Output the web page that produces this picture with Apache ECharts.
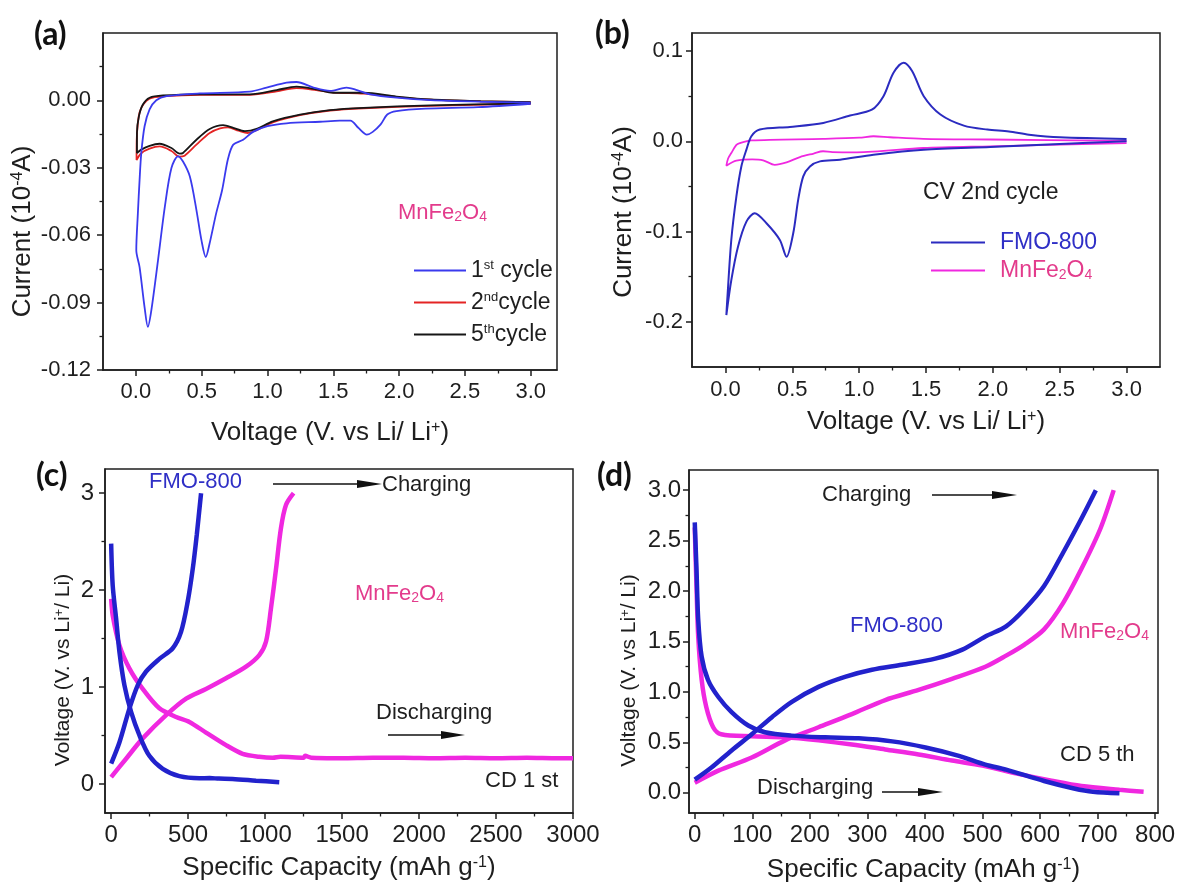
<!DOCTYPE html>
<html><head><meta charset="utf-8">
<script src="https://cdn.jsdelivr.net/npm/echarts@6.0.0/dist/echarts.min.js"></script>
<style>html,body{margin:0;padding:0;background:#fff}#c{width:1182px;height:888px}</style>
</head><body><div id="c"></div><script>
// ---------- DATA ----------
// (a) CV of MnFe2O4 : [voltage (V), current (1e-4 A)]
const cvA_1st = [[3.0,-0.0015],[2.6,-0.003],[2.2,-0.0037],[1.98,-0.0048],[1.91,-0.0063],[1.86,-0.0107],[1.80,-0.014],[1.755,-0.0152],[1.69,-0.0122],[1.63,-0.009],[1.55,-0.009],[1.40,-0.0095],[1.145,-0.0102],[1.0,-0.0115],[0.89,-0.014],[0.815,-0.0175],[0.74,-0.0197],[0.70,-0.026],[0.655,-0.040],[0.61,-0.0503],[0.56,-0.0637],[0.531,-0.0697],[0.498,-0.0622],[0.46,-0.0488],[0.41,-0.0339],[0.358,-0.0272],[0.32,-0.0249],[0.27,-0.0301],[0.22,-0.0473],[0.168,-0.0712],[0.117,-0.0936],[0.091,-0.1008],[0.066,-0.0921],[0.028,-0.0742],[0.003,-0.0667],[0.015,-0.0503],[0.028,-0.0354],[0.041,-0.0234],[0.066,-0.0115],[0.104,-0.004],[0.155,0.0001],[0.232,0.0019],[0.485,0.0031],[0.866,0.0039],[0.993,0.0057],[1.145,0.0079],[1.22,0.0082],[1.35,0.0057],[1.475,0.0042],[1.6,0.0057],[1.68,0.0046],[1.78,0.0027],[1.98,0.0012],[2.24,0.0001],[2.62,-0.0006],[3.0,-0.001]];
const cvA_2nd = [[3.0,-0.0015],[2.24,-0.0024],[1.73,-0.0035],[1.475,-0.0045],[1.247,-0.0066],[1.04,-0.0098],[0.917,-0.0133],[0.85,-0.0145],[0.78,-0.0135],[0.70,-0.012],[0.64,-0.0125],[0.561,-0.0145],[0.46,-0.0197],[0.37,-0.0246],[0.33,-0.025],[0.27,-0.0225],[0.18,-0.0205],[0.104,-0.0215],[0.041,-0.0235],[0.005,-0.0265],[0.006,-0.018],[0.015,-0.010],[0.03,-0.005],[0.06,-0.0015],[0.104,0.0008],[0.2,0.0018],[0.485,0.0025],[0.866,0.0025],[1.07,0.004],[1.22,0.0055],[1.37,0.0046],[1.5,0.0035],[1.73,0.003],[1.98,0.0015],[2.24,0.0003],[2.62,-0.0004],[3.0,-0.0008]];
const cvA_5th = [[3.0,-0.0013],[2.24,-0.0022],[1.73,-0.0033],[1.475,-0.0043],[1.247,-0.0063],[1.04,-0.0093],[0.917,-0.0127],[0.828,-0.0137],[0.74,-0.0122],[0.663,-0.011],[0.561,-0.0127],[0.46,-0.0175],[0.358,-0.0234],[0.333,-0.0237],[0.27,-0.0212],[0.18,-0.0193],[0.104,-0.0202],[0.041,-0.0219],[0.008,-0.0234],[0.008,-0.0145],[0.023,-0.007],[0.053,-0.0018],[0.104,0.0012],[0.206,0.0022],[0.485,0.0027],[0.866,0.0027],[1.07,0.0046],[1.22,0.0061],[1.37,0.0049],[1.5,0.0034],[1.73,0.0034],[1.98,0.0017],[2.24,0.0004],[2.62,-0.0003],[3.0,-0.0008]];
// (b) CV 2nd cycle
const cvB_FMO = [[3.0,0.0],[2.5,-0.003],[1.98,-0.0062],[1.483,-0.0092],[1.107,-0.0148],[0.857,-0.0203],[0.707,-0.0222],[0.632,-0.0278],[0.582,-0.0389],[0.544,-0.0648],[0.507,-0.1018],[0.457,-0.1278],[0.407,-0.1092],[0.307,-0.0907],[0.219,-0.0796],[0.157,-0.0889],[0.094,-0.1167],[0.044,-0.1537],[0.007,-0.1925],[0.012,-0.1796],[0.044,-0.109],[0.082,-0.061],[0.119,-0.0278],[0.157,-0.0092],[0.194,0.0056],[0.257,0.013],[0.482,0.016],[0.732,0.0204],[0.932,0.0286],[1.095,0.035],[1.182,0.050],[1.257,0.076],[1.333,0.087],[1.396,0.0778],[1.483,0.050],[1.608,0.0297],[1.783,0.0174],[1.959,0.013],[2.12,0.011],[2.27,0.0074],[2.5,0.0044],[3.0,0.0027]];
const cvB_MFO = [[3.0,-0.002],[1.98,-0.0055],[1.48,-0.0074],[0.982,-0.0122],[0.80,-0.012],[0.73,-0.011],[0.66,-0.0135],[0.557,-0.0174],[0.457,-0.0233],[0.369,-0.026],[0.282,-0.021],[0.2,-0.020],[0.082,-0.0215],[0.007,-0.027],[0.02,-0.019],[0.044,-0.013],[0.082,-0.004],[0.107,-0.002],[0.194,0.001],[0.73,0.0027],[1.0,0.004],[1.107,0.0056],[1.23,0.0045],[1.48,0.0027],[1.98,0.002],[3.0,0.0005]];
// (c) CD 1st : [capacity (mAh/g), voltage (V)]
const cdC_FMO_dis = [[0,2.48],[10,2.05],[32,1.71],[54,1.36],[86,1.02],[130,0.74],[184,0.50],[248,0.29],[335,0.155],[443,0.08],[573,0.059],[640,0.06],[700,0.055],[789,0.052],[941,0.034],[1092,0.017]];
const cdC_FMO_chg = [[0,0.21],[54,0.43],[119,0.78],[173,1.02],[227,1.16],[313,1.29],[400,1.40],[454,1.57],[497,1.88],[530,2.22],[556,2.57],[584,3.0]];
const cdC_MFO_dis = [[0,1.91],[10,1.74],[54,1.43],[119,1.19],[205,0.98],[313,0.78],[422,0.69],[508,0.64],[616,0.53],[746,0.40],[854,0.31],[962,0.28],[1050,0.27],[1100,0.28],[1250,0.27],[1260,0.29],[1300,0.27],[1500,0.265],[1700,0.27],[1900,0.27],[2100,0.265],[2300,0.27],[2500,0.265],[2700,0.27],[2900,0.265],[3000,0.265]];
const cdC_MFO_chg = [[0,0.07],[97,0.26],[205,0.47],[357,0.71],[487,0.88],[616,0.98],[746,1.09],[876,1.21],[962,1.33],[1006,1.47],[1038,1.81],[1071,2.22],[1103,2.64],[1136,2.88],[1185,3.0]];
// (d) CD 5th
const cdD_FMO_dis = [[0,2.68],[3,2.22],[6,1.72],[12,1.35],[23,1.12],[41,0.95],[64,0.80],[93,0.667],[122,0.60],[168,0.567],[227,0.55],[285,0.54],[343,0.51],[401,0.45],[459,0.367],[505,0.28],[541,0.23],[607,0.117],[659,0.043],[692,0.01],[738,-0.005]];
const cdD_FMO_chg = [[0,0.13],[29,0.25],[64,0.42],[99,0.58],[134,0.75],[168,0.90],[215,1.05],[261,1.15],[308,1.22],[360,1.27],[418,1.33],[465,1.42],[505,1.55],[541,1.65],[573,1.82],[607,2.05],[640,2.38],[672,2.72],[697,3.0]];
const cdD_MFO_dis = [[0,2.63],[3,2.05],[6,1.55],[12,1.12],[20,0.85],[32,0.65],[46,0.58],[99,0.56],[157,0.55],[215,0.52],[273,0.48],[331,0.43],[389,0.38],[447,0.32],[500,0.27],[560,0.19],[620,0.12],[672,0.067],[738,0.03],[780,0.01]];
const cdD_MFO_chg = [[0,0.10],[41,0.22],[99,0.35],[157,0.52],[215,0.65],[273,0.78],[331,0.92],[389,1.02],[447,1.13],[505,1.25],[541,1.36],[573,1.47],[607,1.62],[640,1.88],[672,2.22],[705,2.62],[728,3.0]];
// ticks
const tickA_x = [0,0.5,1.0,1.5,2.0,2.5,3.0];
const minorA_x = [0.25,0.75,1.25,1.75,2.25,2.75];
const tickA_y = [-0.12,-0.09,-0.06,-0.03,0];
const minorA_y = [-0.105,-0.075,-0.045,-0.015,0.015];
const tickB_x = [0,0.5,1.0,1.5,2.0,2.5,3.0];
const minorB_x = [0.25,0.75,1.25,1.75,2.25,2.75];
const tickB_y = [-0.2,-0.1,0,0.1];
const minorB_y = [-0.15,-0.05,0.05];
const tickC_x = [0,500,1000,1500,2000,2500,3000];
const minorC_x = [250,750,1250,1750,2250,2750];
const tickC_y = [0,1,2,3];
const minorC_y = [0.5,1.5,2.5];
const tickD_x = [0,100,200,300,400,500,600,700,800];
const minorD_x = [50,150,250,350,450,550,650,750];
const tickD_y = [0,0.5,1.0,1.5,2.0,2.5,3.0];
const minorD_y = [0.25,0.75,1.25,1.75,2.25,2.75];

// ---------- STYLE ----------
const FF = "'Liberation Sans', Arial, sans-serif";
const INK = '#1e1e1e';
const BLUE_A = '#3a3aee', RED_A = '#e42424', BLACK_A = '#161616';
const BLUE = '#2222cc', MAG = '#f028e0', PINK_T = '#e33b8c', BLUE_T = '#2f2fc6';

function xAxes(g, min, max, majors, minors, fmt, fs, margin, name, gap, nfs){
  return [{
    type:'value', gridIndex:g, min:min, max:max, position:'bottom',
    axisLine:{show:true, onZero:false, lineStyle:{color:INK, width:1.5}},
    axisTick:{show:true, inside:false, length:6, customValues:majors, lineStyle:{color:INK, width:1.5}},
    axisLabel:{show:true, customValues:majors, formatter:fmt, margin:margin, color:INK, fontSize:fs, fontFamily:FF},
    splitLine:{show:false},
    name:name, nameLocation:'middle', nameGap:gap,
    nameTextStyle:{color:INK, fontSize:nfs, fontFamily:FF,
      rich:{sup:{fontSize:Math.round(nfs*0.62), verticalAlign:'top', fontFamily:FF, color:INK}}}
  },{
    type:'value', gridIndex:g, min:min, max:max, position:'bottom',
    axisLine:{show:false, onZero:false},
    axisTick:{show:true, inside:false, length:3.5, customValues:minors, lineStyle:{color:INK, width:1.3}},
    axisLabel:{show:false}, splitLine:{show:false}
  }];
}
function yAxes(g, min, max, majors, minors, fmt, fs, margin, name, gap, nfs, shift){
  return [{
    type:'value', gridIndex:g, min:min, max:max, position:'left',
    axisLine:{show:true, onZero:false, lineStyle:{color:INK, width:1.5}},
    axisTick:{show:true, inside:false, length:6, customValues:majors, lineStyle:{color:INK, width:1.5}},
    axisLabel:{show:true, customValues:majors, formatter:fmt, margin:margin, color:INK, fontSize:fs, fontFamily:FF},
    splitLine:{show:false},
    name:name, nameLocation:'middle', nameGap:gap, nameRotate:90,
    nameTextStyle:{color:INK, fontSize:nfs, fontFamily:FF, padding:[0, shift*2, 0, 0],
      rich:{sup:{fontSize:Math.round(nfs*0.62), verticalAlign:'top', fontFamily:FF, color:INK}}}
  },{
    type:'value', gridIndex:g, min:min, max:max, position:'left',
    axisLine:{show:false, onZero:false},
    axisTick:{show:true, inside:false, length:3.5, customValues:minors, lineStyle:{color:INK, width:1.3}},
    axisLabel:{show:false}, splitLine:{show:false}
  }];
}
function line(name, data, xi, color, width, smooth, z){
  return {type:'line', name:name, data:data, xAxisIndex:xi, yAxisIndex:xi, showSymbol:false, symbol:'none',
    smooth:smooth, lineStyle:{color:color, width:width}, itemStyle:{color:color}, z:z||2, animation:false};
}
function txt(x, y, text, fs, color, rich, extra){
  const st = Object.assign({text:text, fontSize:fs, fontFamily:FF, fill:color,
      align:'left', verticalAlign:'middle', textAlign:'left', textVerticalAlign:'middle'}, extra||{});
  if (rich) st.rich = rich;
  return {type:'text', x:x, y:y, style:st, z:100};
}
function subRich(color, fs){ return {sub:{fontSize:Math.round(fs*0.62), verticalAlign:'bottom', fontFamily:FF, fill:color, color:color}}; }
function arrow(x1, x2, y, head){
  return [
    {type:'line', shape:{x1:x1, y1:y, x2:x2-head+2, y2:y}, style:{stroke:'#111', lineWidth:1.6}, z:100},
    {type:'polygon', shape:{points:[[x2-head,y-4],[x2,y],[x2-head,y+4]]}, style:{fill:'#111'}, z:100}
  ];
}

const gridStyle = {show:true, borderColor:INK, borderWidth:1.5, backgroundColor:'transparent', containLabel:false};
const fmt1 = v => v.toFixed(1), fmt2 = v => v.toFixed(2), fmt0 = v => String(v);

const option = {
  animation:false,
  backgroundColor:'#ffffff',
  grid:[
    Object.assign({left:103, top:33, width:454, height:337}, gridStyle),
    Object.assign({left:692, top:33, width:468, height:334}, gridStyle),
    Object.assign({left:105, top:469, width:468, height:344}, gridStyle),
    Object.assign({left:689, top:470, width:469, height:343}, gridStyle)
  ],
  xAxis:[].concat(
    xAxes(0, -0.25, 3.2, tickA_x, minorA_x, fmt1, 22, 11, 'Voltage (V. vs Li/ Li{sup|+})', 50, 26),
    xAxes(1, -0.25, 3.25, tickB_x, minorB_x, fmt1, 22, 12, 'Voltage (V. vs Li/ Li{sup|+})', 42, 26),
    xAxes(2, -40, 3000, tickC_x, minorC_x, fmt0, 24, 10, 'Specific Capacity (mAh g{sup|-1})', 42, 26),
    xAxes(3, -10, 805, tickD_x, minorD_x, fmt0, 24, 10, 'Specific Capacity (mAh g{sup|-1})', 44, 26)
  ),
  yAxis:[].concat(
    yAxes(0, -0.12, 0.03, tickA_y, minorA_y, fmt2, 22, 12, 'Current (10{sup|-4}A)', 67, 26, 30),
    yAxes(1, -0.25, 0.12, tickB_y, minorB_y, fmt1, 22, 9, 'Current (10{sup|-4}A)', 55, 26, 12),
    yAxes(2, -0.3, 3.25, tickC_y, minorC_y, fmt0, 24, 11, 'Voltage (V. vs Li{sup|+}/ Li)', 31, 21, 29),
    yAxes(3, -0.2, 3.2, tickD_y, minorD_y, fmt1, 24, 8, 'Voltage (V. vs Li{sup|+}/ Li)', 49, 21, 29)
  ),
  legend:[
    {orient:'vertical', left:409, top:254, itemWidth:52, itemHeight:2, itemGap:9, icon:'rect',
     data:['1st cycle','2nd cycle','5th cycle'],
     formatter: n => ({'1st cycle':'1{sup|st} cycle','2nd cycle':'2{sup|nd}cycle','5th cycle':'5{sup|th}cycle'})[n],
     textStyle:{fontSize:23, fontFamily:FF, color:INK, lineHeight:23,
       rich:{sup:{fontSize:13, verticalAlign:'top', fontFamily:FF, color:INK}}}},
    {orient:'vertical', left:926, top:226, itemWidth:54, itemHeight:2, itemGap:5, icon:'rect',
     data:[{name:'FMO-800', textStyle:{color:BLUE_T}}, {name:'MnFe2O4', textStyle:{color:PINK_T}}],
     formatter: n => n === 'MnFe2O4' ? 'MnFe{sub|2}O{sub|4}' : n,
     textStyle:{fontSize:23, fontFamily:FF, lineHeight:23, padding:[0,0,0,10],
       rich:{sub:{fontSize:14, verticalAlign:'bottom', fontFamily:FF}}}}
  ],
  series:[
    line('2nd cycle', cvA_2nd, 0, RED_A, 1.8, 0.3, 2),
    line('5th cycle', cvA_5th, 0, BLACK_A, 1.8, 0.3, 3),
    line('1st cycle', cvA_1st, 0, BLUE_A, 1.8, 0.3, 4),
    line('MnFe2O4', cvB_MFO, 2, MAG, 1.8, 0.3, 2),
    line('FMO-800', cvB_FMO, 2, '#2b2bc0', 2, 0.3, 3),
    line('FMO-800 CD1 discharge', cdC_FMO_dis, 4, BLUE, 4.5, 0.3, 3),
    line('FMO-800 CD1 charge', cdC_FMO_chg, 4, BLUE, 4.5, 0.3, 3),
    line('MnFe2O4 CD1 discharge', cdC_MFO_dis, 4, MAG, 4.5, 0.25, 2),
    line('MnFe2O4 CD1 charge', cdC_MFO_chg, 4, MAG, 4.5, 0.3, 2),
    line('FMO-800 CD5 discharge', cdD_FMO_dis, 6, BLUE, 4.5, 0.3, 3),
    line('FMO-800 CD5 charge', cdD_FMO_chg, 6, BLUE, 4.5, 0.3, 3),
    line('MnFe2O4 CD5 discharge', cdD_MFO_dis, 6, MAG, 4.5, 0.3, 2),
    line('MnFe2O4 CD5 charge', cdD_MFO_chg, 6, MAG, 4.5, 0.3, 2)
  ],
  graphic:[].concat(
    [
      txt(34, 35, '(a)', 32, '#111', null, {fontFamily:'Lato', fontWeight:'bold'}),
      txt(595, 34, '(b)', 32, '#111', null, {fontFamily:'Lato', fontWeight:'bold'}),
      txt(36, 476, '(c)', 32, '#111', null, {fontFamily:'Lato', fontWeight:'bold'}),
      txt(597, 476, '(d)', 32, '#111', null, {fontFamily:'Lato', fontWeight:'bold'}),
      txt(398, 213, 'MnFe{sub|2}O{sub|4}', 22, PINK_T, subRich(PINK_T, 22)),
      txt(923, 193, 'CV 2nd cycle', 23, INK),
      txt(149, 482, 'FMO-800', 22, BLUE_T),
      txt(382, 485, 'Charging', 22, INK),
      txt(355, 594, 'MnFe{sub|2}O{sub|4}', 22, PINK_T, subRich(PINK_T, 22)),
      txt(376, 713, 'Discharging', 22, INK),
      txt(485, 781, 'CD 1 st', 22, INK),
      txt(822, 495, 'Charging', 22, INK),
      txt(850, 626, 'FMO-800', 22, BLUE_T),
      txt(1060, 632, 'MnFe{sub|2}O{sub|4}', 22, PINK_T, subRich(PINK_T, 22)),
      txt(1060, 755, 'CD 5 th', 22, INK),
      txt(757, 788, 'Discharging', 22, INK)
    ],
    arrow(273, 382, 484, 25),
    arrow(388, 465, 735, 24),
    arrow(932, 1017, 495, 25),
    arrow(882, 943, 792, 25)
  )
};
const chart = echarts.init(document.getElementById('c'), null, {renderer:'canvas'});
chart.setOption(option);
</script></body></html>
